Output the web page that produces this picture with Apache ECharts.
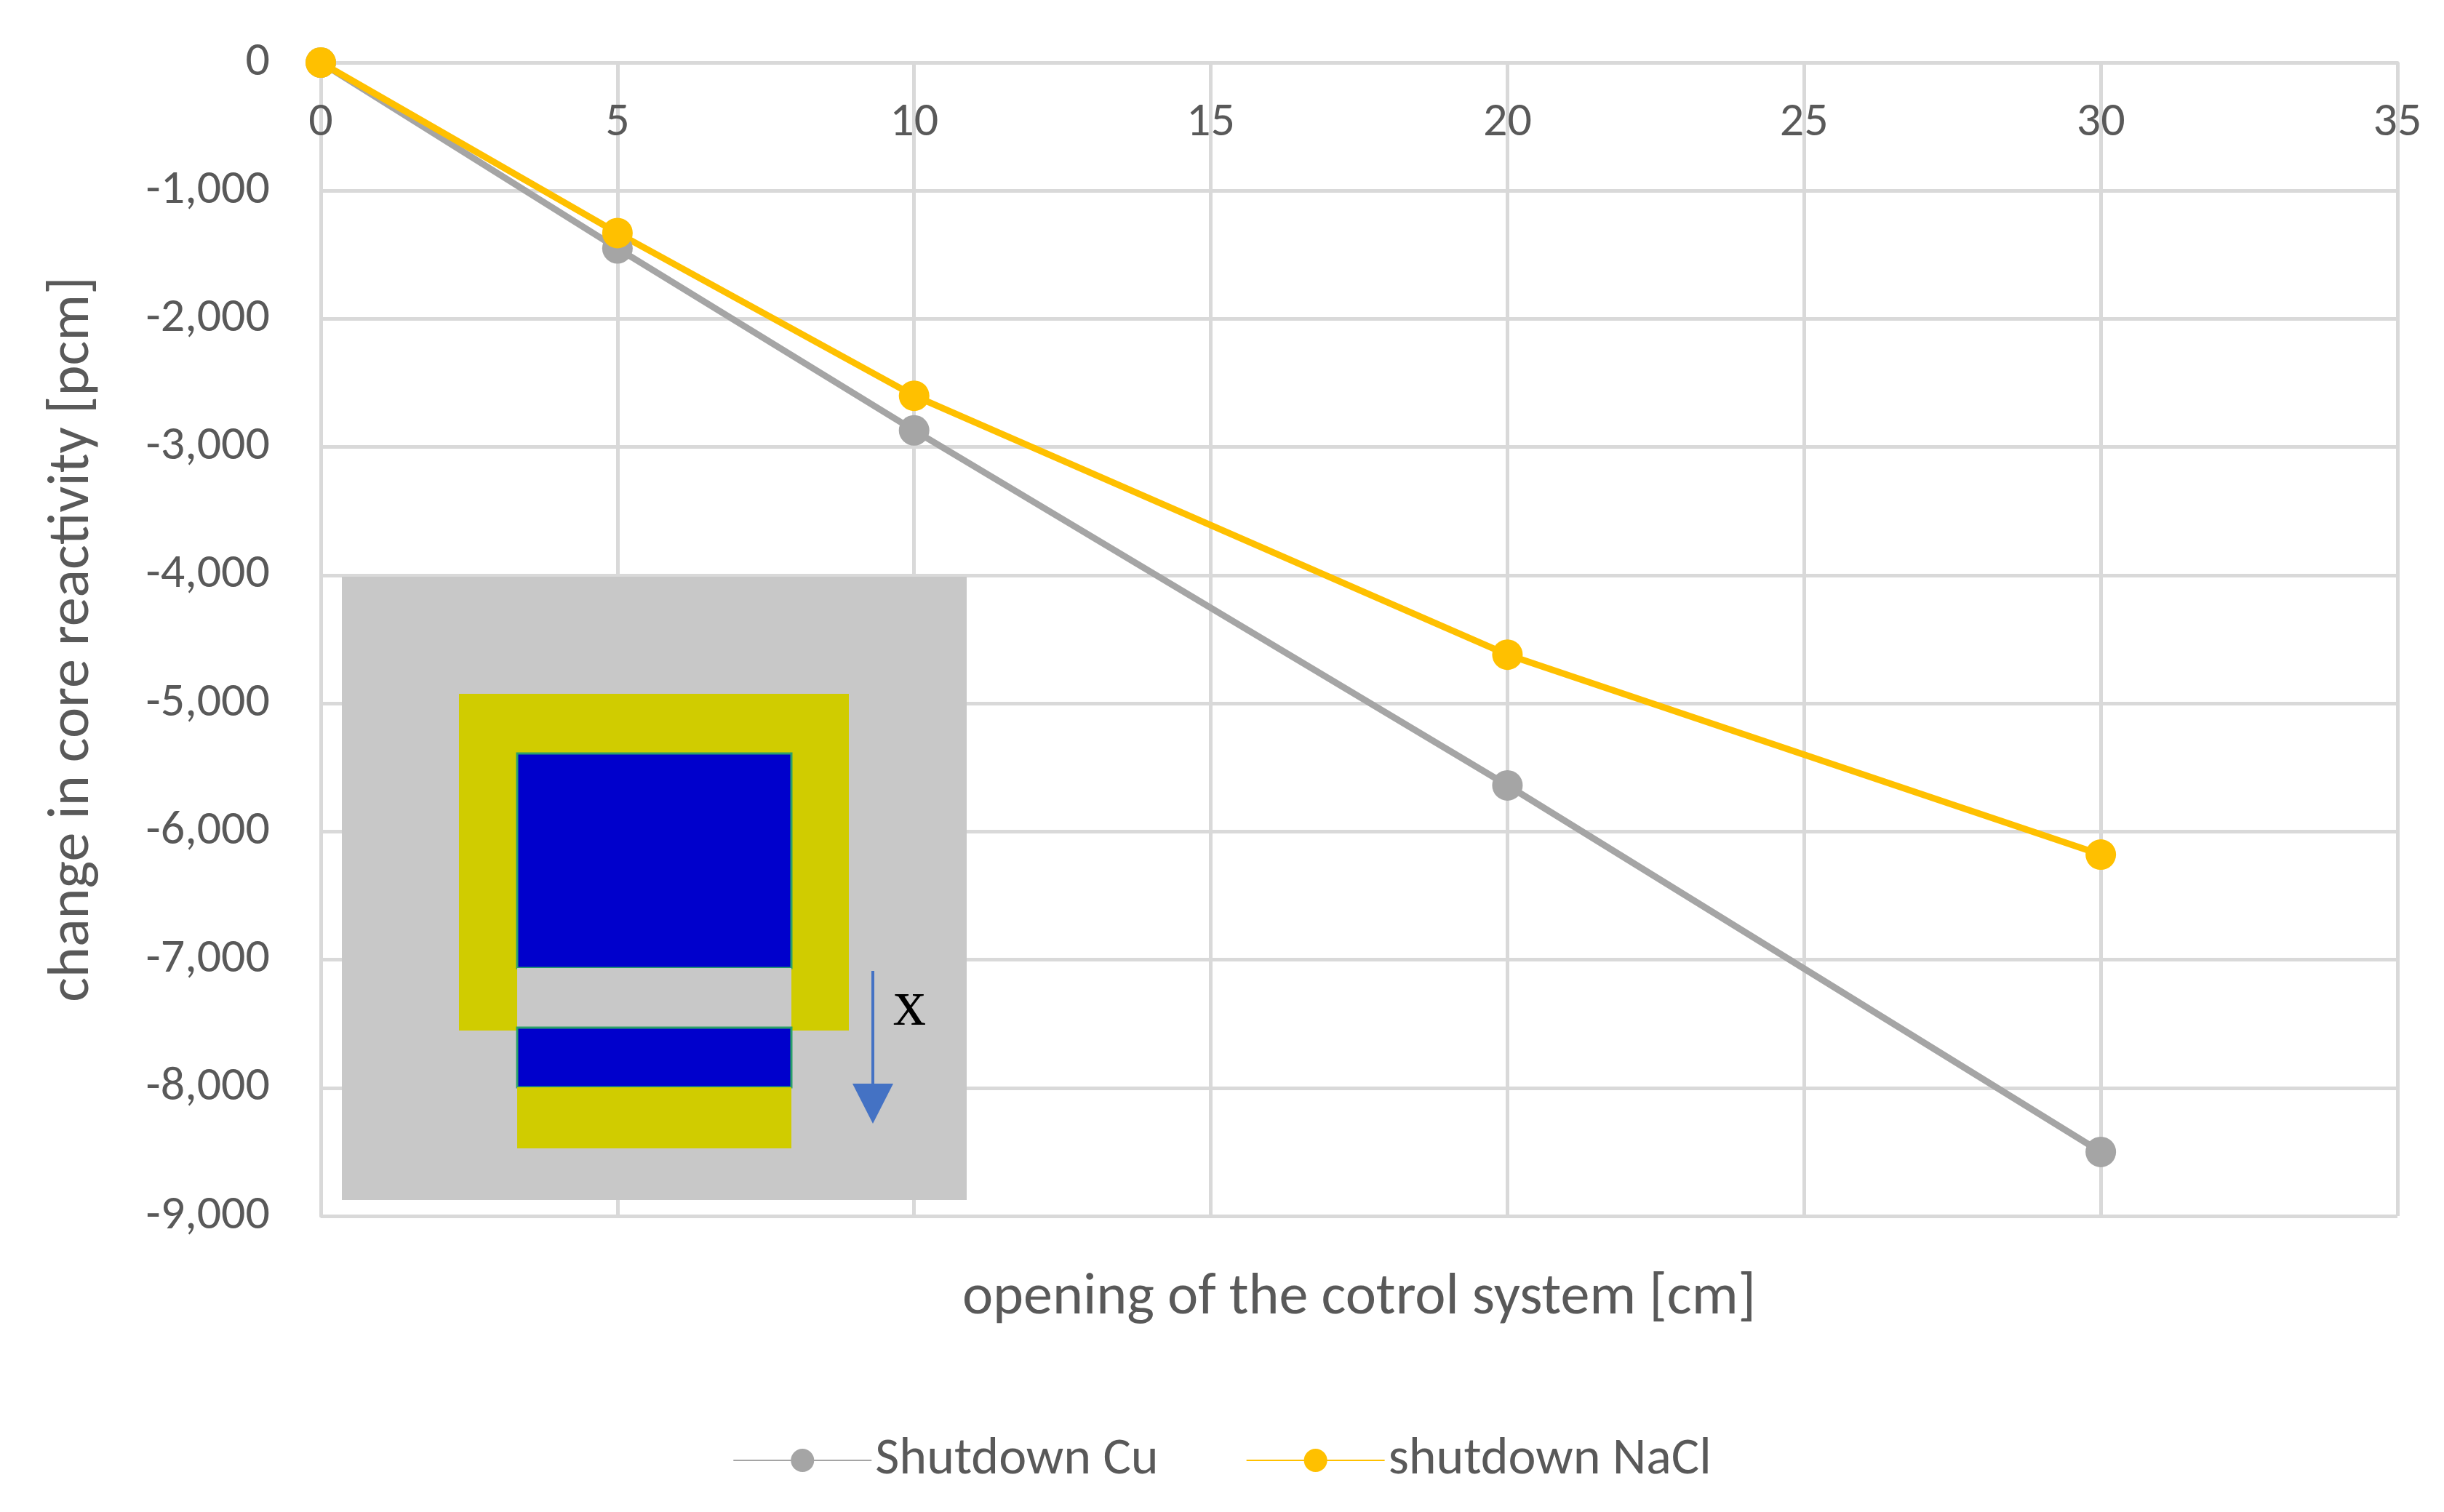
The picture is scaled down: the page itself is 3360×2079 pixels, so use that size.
<!DOCTYPE html>
<html><head><meta charset="utf-8">
<script src="https://cdn.jsdelivr.net/npm/echarts@6/dist/echarts.min.js"></script>
<style>html,body{margin:0;background:#fff}#main{width:3360px;height:2079px}</style>
</head><body><div id="main"></div>
<script>
var opening = [0, 5, 10, 20, 30];
var cu = [0, -1450, -2870, -5640, -8500];
var nacl = [0, -1330, -2600, -4620, -6180];

function pairs(v) { return opening.map(function (x, i) { return [x, v[i]]; }); }

var myChart = echarts.init(document.getElementById('main'));
var font = 'Calibri, Carlito, "Open Sans", sans-serif';
var option = {
    animation: false,
    textStyle: { fontFamily: font },
    grid: { left: 441, top: 86, right: 64, bottom: 407 },
    xAxis: {
        type: 'value', min: 0, max: 35, interval: 5, position: 'top',
        name: 'opening of the cotrol system [cm]', nameLocation: 'middle', nameGap: -1740,
        nameTextStyle: { fontSize: 80, color: '#595959' },
        axisLine: { lineStyle: { color: '#d9d9d9', width: 5 } },
        axisTick: { show: false },
        axisLabel: { inside: true, fontSize: 66, color: '#595959', margin: 50 },
        splitLine: { lineStyle: { color: '#d9d9d9', width: 5 } }
    },
    yAxis: {
        type: 'value', min: -9000, max: 0, interval: 1000,
        name: 'change in core reactivity [pcm]', nameLocation: 'middle', nameGap: 300,
        nameTextStyle: { fontSize: 80, color: '#595959' },
        axisLine: { show: true, lineStyle: { color: '#d9d9d9', width: 5 } },
        axisTick: { show: false },
        axisLabel: { fontSize: 66, color: '#595959', margin: 70 },
        splitLine: { lineStyle: { color: '#d9d9d9', width: 5 } }
    },
    legend: {
        bottom: 30, left: 'center', itemWidth: 190, itemHeight: 40, itemGap: 120,
        textStyle: { fontSize: 72, color: '#595959' },
        data: ['Shutdown Cu', 'shutdown NaCl']
    },
    graphic: [
        { type: 'rect', z: 100, shape: { x: 470, y: 793, width: 859, height: 857 }, style: { fill: '#c8c8c8' } },
        { type: 'rect', z: 101, shape: { x: 631, y: 954, width: 536, height: 463 }, style: { fill: '#d0cc00' } },
        { type: 'rect', z: 102, shape: { x: 711, y: 1036, width: 377, height: 295 }, style: { fill: '#0000cc', stroke: '#2aa06a', lineWidth: 3 } },
        { type: 'rect', z: 102, shape: { x: 711, y: 1331, width: 377, height: 82 }, style: { fill: '#c8c8c8' } },
        { type: 'rect', z: 102, shape: { x: 711, y: 1413, width: 377, height: 82 }, style: { fill: '#0000cc', stroke: '#2aa06a', lineWidth: 3 } },
        { type: 'rect', z: 102, shape: { x: 711, y: 1495, width: 377, height: 84 }, style: { fill: '#d0cc00' } },
        { type: 'line', z: 103, shape: { x1: 1200, y1: 1335, x2: 1200, y2: 1500 }, style: { stroke: '#4472c4', lineWidth: 4 } },
        { type: 'polygon', z: 103, shape: { points: [[1172, 1490], [1228, 1490], [1200, 1545]] }, style: { fill: '#4472c4' } },
        { type: 'text', z: 103, x: 1228, y: 1340, style: { text: 'x', font: '90px "Liberation Serif", serif', fill: '#000' } }
    ],
    series: [{
        name: 'Shutdown Cu', type: 'line', data: pairs(cu),
        symbol: 'circle', symbolSize: 42,
        lineStyle: { color: '#a5a5a5', width: 9 }, itemStyle: { color: '#a5a5a5' }
    }, {
        name: 'shutdown NaCl', type: 'line', data: pairs(nacl),
        symbol: 'circle', symbolSize: 42,
        lineStyle: { color: '#ffc000', width: 9 }, itemStyle: { color: '#ffc000' }
    }]
};
myChart.setOption(option);
</script></body></html>
